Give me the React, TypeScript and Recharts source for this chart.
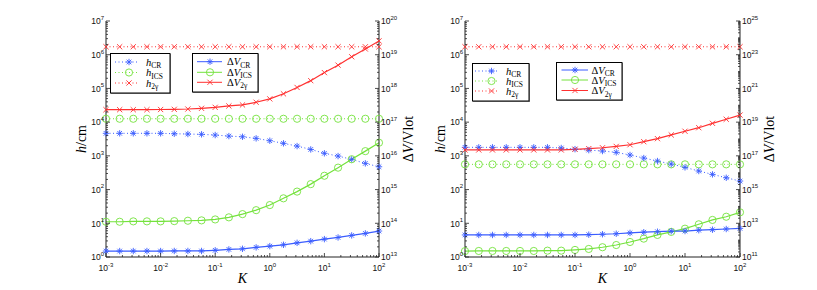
import { ComposedChart, Line, XAxis, YAxis } from "recharts";

const BLUE = "#3a5cff";
const GREEN = "#74e23c";
const RED = "#ff3030";
const SANS = "'Liberation Sans', Arial, sans-serif";
const SERIF = "'Liberation Serif', 'Times New Roman', serif";

// K sampled 4 points per decade
const kValues = [
  0.001, 0.00178, 0.00316, 0.00562, 0.01, 0.0178, 0.0316, 0.0562, 0.1, 0.178, 0.316,
  0.562, 1, 1.78, 3.16, 5.62, 10, 17.8, 31.6, 56.2, 100,
];

// left panel
const hCrLeft = [4660, 4660, 4660, 4660, 4660, 4530, 4440, 4350, 4140, 3860, 3680, 3300, 2810, 2350, 1950, 1550, 1190, 986, 787, 598, 475];
const hIcsLeft = [12600, 12600, 12600, 12600, 12600, 12600, 12600, 12600, 12600, 12600, 12600, 12600, 12600, 12600, 12600, 12600, 12600, 12600, 12600, 12600, 12600];
const h2gLeft = [1.72e6, 1.72e6, 1.72e6, 1.72e6, 1.72e6, 1.72e6, 1.72e6, 1.72e6, 1.72e6, 1.72e6, 1.72e6, 1.72e6, 1.72e6, 1.72e6, 1.72e6, 1.72e6, 1.72e6, 1.72e6, 1.72e6, 1.72e6, 1.72e6];
const vCrLeft = [1.5e13, 1.5e13, 1.5e13, 1.5e13, 1.5e13, 1.51e13, 1.51e13, 1.51e13, 1.58e13, 1.68e13, 1.75e13, 1.93e13, 2.1e13, 2.3e13, 2.63e13, 2.95e13, 3.39e13, 3.8e13, 4.37e13, 5.01e13, 5.89e13];
const vIcsLeft = [1.11e14, 1.11e14, 1.14e14, 1.14e14, 1.14e14, 1.16e14, 1.19e14, 1.22e14, 1.3e14, 1.5e14, 1.87e14, 2.45e14, 3.47e14, 5.5e14, 8.71e14, 1.45e15, 2.57e15, 4.47e15, 7.94e15, 1.38e16, 2.45e16];
const v2gLeft = [2.34e17, 2.34e17, 2.34e17, 2.34e17, 2.37e17, 2.4e17, 2.45e17, 2.57e17, 2.75e17, 3.02e17, 3.24e17, 3.89e17, 4.9e17, 6.92e17, 1.07e18, 1.7e18, 2.95e18, 4.9e18, 8.71e18, 1.48e19, 2.57e19];

// right panel
const hCrRight = [1790, 1790, 1790, 1790, 1790, 1790, 1790, 1710, 1580, 1480, 1390, 1270, 1060, 861, 701, 571, 456, 355, 282, 224, 179];
const hIcsRight = [560, 560, 560, 560, 560, 560, 560, 560, 560, 560, 560, 560, 560, 560, 560, 560, 560, 560, 560, 560, 560];
const h2gRight = [1.72e6, 1.72e6, 1.72e6, 1.72e6, 1.72e6, 1.72e6, 1.72e6, 1.72e6, 1.72e6, 1.72e6, 1.72e6, 1.72e6, 1.72e6, 1.72e6, 1.72e6, 1.72e6, 1.72e6, 1.72e6, 1.72e6, 1.72e6, 1.72e6];
const vCrRight = [2.03e12, 2.03e12, 2.03e12, 2.03e12, 2.03e12, 2.03e12, 2.03e12, 2.03e12, 2.03e12, 2.11e12, 2.24e12, 2.4e12, 2.69e12, 2.95e12, 3.16e12, 3.39e12, 3.47e12, 3.89e12, 4.17e12, 4.57e12, 5.01e12];
const vIcsRight = [2.24e11, 2.28e11, 2.28e11, 2.28e11, 2.28e11, 2.28e11, 2.38e11, 2.38e11, 2.63e11, 3.0e11, 3.8e11, 5.13e11, 7.76e11, 1.23e12, 2.04e12, 3.09e12, 4.79e12, 8.71e12, 1.58e13, 2.45e13, 4.47e13];
const v2gRight = [2.24e17, 2.24e17, 2.24e17, 2.24e17, 2.24e17, 2.24e17, 2.24e17, 2.24e17, 2.45e17, 2.69e17, 3.02e17, 3.63e17, 4.57e17, 6.92e17, 1.05e18, 1.74e18, 2.88e18, 4.68e18, 8.51e18, 1.48e19, 2.63e19];

// labelled decades (exponents)
const xLabelExps = [-3, -2, -1, 0, 1, 2];
const hLabelExps = [0, 1, 2, 3, 4, 5, 6, 7];
const vLabelExpsLeft = [13, 14, 15, 16, 17, 18, 19, 20];
const vLabelExpsRight = [11, 13, 15, 17, 19, 21, 23, 25];

const logTicks = (from: number, to: number) => {
  const out: number[] = [];
  for (let e = from; e < to; e++) {
    for (let m = 1; m < 10; m++) out.push(Number((m * Math.pow(10, e)).toPrecision(3)));
  }
  out.push(Number(Math.pow(10, to).toPrecision(3)));
  return out;
};

const buildRows = (h1: number[], h2: number[], h3: number[], v1: number[], v2: number[], v3: number[]) =>
  kValues.map((K, i) => ({ K, hCR: h1[i], hICS: h2[i], h2g: h3[i], vCR: v1[i], vICS: v2[i], v2g: v3[i] }));

type Kind = "star" | "circle" | "cross";

const Mark = ({ kind, cx, cy, color }: { kind: Kind; cx: number; cy: number; color: string }) => {
  if (cx == null || cy == null) return null;
  if (kind === "circle") return <circle cx={cx} cy={cy} r={3.6} fill="none" stroke={color} strokeWidth={0.9} />;
  if (kind === "cross") {
    const r = 2.6;
    return (
      <g stroke={color} strokeWidth={0.9}>
        <line x1={cx - r} y1={cy - r} x2={cx + r} y2={cy + r} />
        <line x1={cx - r} y1={cy + r} x2={cx + r} y2={cy - r} />
      </g>
    );
  }
  const r = 3.2;
  const d = r * 0.72;
  return (
    <g stroke={color} strokeWidth={0.9}>
      <line x1={cx - r} y1={cy} x2={cx + r} y2={cy} />
      <line x1={cx} y1={cy - r} x2={cx} y2={cy + r} />
      <line x1={cx - d} y1={cy - d} x2={cx + d} y2={cy + d} />
      <line x1={cx - d} y1={cy + d} x2={cx + d} y2={cy - d} />
    </g>
  );
};

const dotOf = (kind: Kind, color: string) => (p: any) =>
  <Mark key={`${kind}-${color}-${p.index}`} kind={kind} cx={p.cx} cy={p.cy} color={color} />;

const Pow = ({ x, y, anchor, e }: { x: number; y: number; anchor: string; e: number }) => (
  <text x={x} y={y} textAnchor={anchor as any} fontFamily={SANS} fontSize={8.5} fill="#111">
    10<tspan dy={-4.5} fontSize={6}>{e}</tspan>
  </text>
);

const LogTick = (props: any) => {
  const { x, y, payload, side, labels } = props;
  const lg = Math.log10(payload.value);
  const e = Math.round(lg);
  const labeled = Math.abs(lg - e) < 1e-6 && labels.includes(e);
  const len = labeled ? 4 : 2;
  const st = { stroke: "#222", strokeWidth: 0.8 };
  if (side === "bottom")
    return (
      <g>
        <line x1={x} y1={y} x2={x} y2={y - len} {...st} />
        {labeled && <Pow x={x} y={y + 14} anchor="middle" e={e} />}
      </g>
    );
  if (side === "top") return <line x1={x} y1={y} x2={x} y2={y + len} {...st} />;
  if (side === "left")
    return (
      <g>
        <line x1={x} y1={y} x2={x + len} y2={y} {...st} />
        {labeled && <Pow x={x - 2} y={y + 3.3} anchor="end" e={e} />}
      </g>
    );
  return (
    <g>
      <line x1={x} y1={y} x2={x - len} y2={y} {...st} />
      {labeled && <Pow x={x + 2} y={y + 3.3} anchor="start" e={e} />}
    </g>
  );
};

const VText = ({ cx, cy, children }: { cx: number; cy: number; children: any }) => (
  <text
    x={cx}
    y={cy}
    transform={`rotate(-90 ${cx} ${cy})`}
    textAnchor="middle"
    dominantBaseline="central"
    fontFamily={SERIF}
    fontSize={14}
    fill="#000"
  >
    {children}
  </text>
);

interface LegendItem {
  delta: boolean;
  sub: string;
  color: string;
  kind: Kind;
  dashed: boolean;
}

const LegendBox = ({ left, top, width, height, rows, line, markX, textX, items }: any) => (
  <svg style={{ position: "absolute", left, top }} width={width + 2} height={height + 2}>
    <rect x={1} y={1} width={width} height={height} fill="#888" />
    <rect x={0.5} y={0.5} width={width - 0.5} height={height - 0.5} fill="#fff" stroke="#000" strokeWidth={1} />
    {items.map((it: LegendItem, i: number) => (
      <g key={i}>
        <line
          x1={line[0]}
          x2={line[1]}
          y1={rows[i]}
          y2={rows[i]}
          stroke={it.color}
          strokeWidth={1}
          strokeDasharray={it.dashed ? "1 2.5" : undefined}
        />
        <Mark kind={it.kind} cx={markX} cy={rows[i]} color={it.color} />
        <text x={textX} y={rows[i] + 3.5} fontFamily={SERIF} fontSize={10.5} fill="#000">
          {it.delta ? "Δ" : ""}
          <tspan fontStyle="italic">{it.delta ? "V" : "h"}</tspan>
          <tspan dy={2.5} fontSize={7.5}>{it.sub}</tspan>
        </text>
      </g>
    ))}
  </svg>
);

const hItems: LegendItem[] = [
  { delta: false, sub: "CR", color: BLUE, kind: "star", dashed: true },
  { delta: false, sub: "ICS", color: GREEN, kind: "circle", dashed: true },
  { delta: false, sub: "2γ", color: RED, kind: "cross", dashed: true },
];
const vItems: LegendItem[] = [
  { delta: true, sub: "CR", color: BLUE, kind: "star", dashed: false },
  { delta: true, sub: "ICS", color: GREEN, kind: "circle", dashed: false },
  { delta: true, sub: "2γ", color: RED, kind: "cross", dashed: false },
];

const xTicks = logTicks(-3, 2);
const hTicks = logTicks(0, 7);

const Panel = ({ left, width, leftW, rightW, vDomain, vTicks, vLabels, data }: any) => {
  const plotL = leftW;
  const plotR = width - rightW;
  return (
    <div style={{ position: "absolute", left, top: 0 }}>
      <ComposedChart width={width} height={290} data={data} margin={{ top: 21, right: 0, bottom: 0, left: 0 }}>
        <XAxis
          xAxisId="b"
          dataKey="K"
          type="number"
          scale="log"
          domain={[0.001, 100]}
          ticks={xTicks}
          interval={0}
          tickSize={0}
          tickMargin={0}
          height={33}
          stroke="#222"
          tick={(p: any) => <LogTick {...p} side="bottom" labels={xLabelExps} />}
          label={{
            content: () => (
              <text x={(plotL + plotR) / 2} y={283} textAnchor="middle" fontFamily={SERIF} fontStyle="italic" fontSize={14}>
                K
              </text>
            ),
          }}
        />
        <XAxis
          xAxisId="t"
          orientation="top"
          dataKey="K"
          type="number"
          scale="log"
          domain={[0.001, 100]}
          ticks={xTicks}
          interval={0}
          tickSize={0}
          tickMargin={0}
          height={0}
          stroke="#222"
          tick={(p: any) => <LogTick {...p} side="top" labels={xLabelExps} />}
        />
        <YAxis
          yAxisId="h"
          type="number"
          scale="log"
          domain={[1, 1e7]}
          ticks={hTicks}
          interval={0}
          tickSize={0}
          tickMargin={0}
          width={leftW}
          stroke="#222"
          tick={(p: any) => <LogTick {...p} side="left" labels={hLabelExps} />}
          label={{
            content: () => (
              <VText cx={plotL - 25} cy={139}>
                <tspan fontStyle="italic">h</tspan>/cm
              </VText>
            ),
          }}
        />
        <YAxis
          yAxisId="v"
          orientation="right"
          type="number"
          scale="log"
          domain={vDomain}
          ticks={vTicks}
          interval={0}
          tickSize={0}
          tickMargin={0}
          width={rightW}
          stroke="#222"
          tick={(p: any) => <LogTick {...p} side="right" labels={vLabels} />}
          label={{
            content: () => (
              <VText cx={plotR + 29} cy={139}>
                Δ<tspan fontStyle="italic">V</tspan>/Vlot
              </VText>
            ),
          }}
        />
        <Line xAxisId="b" yAxisId="h" dataKey="h2g" stroke={RED} strokeWidth={1} strokeDasharray="1 2.5" dot={dotOf("cross", RED)} activeDot={false} isAnimationActive={false} />
        <Line xAxisId="b" yAxisId="h" dataKey="hICS" stroke={GREEN} strokeWidth={1} strokeDasharray="1 2.5" dot={dotOf("circle", GREEN)} activeDot={false} isAnimationActive={false} />
        <Line xAxisId="b" yAxisId="h" dataKey="hCR" stroke={BLUE} strokeWidth={1} strokeDasharray="1 2.5" dot={dotOf("star", BLUE)} activeDot={false} isAnimationActive={false} />
        <Line xAxisId="b" yAxisId="v" dataKey="v2g" stroke={RED} strokeWidth={1.2} dot={dotOf("cross", RED)} activeDot={false} isAnimationActive={false} />
        <Line xAxisId="b" yAxisId="v" dataKey="vICS" stroke={GREEN} strokeWidth={1.2} dot={dotOf("circle", GREEN)} activeDot={false} isAnimationActive={false} />
        <Line xAxisId="b" yAxisId="v" dataKey="vCR" stroke={BLUE} strokeWidth={1.2} dot={dotOf("star", BLUE)} activeDot={false} isAnimationActive={false} />
      </ComposedChart>
    </div>
  );
};

export default function App() {
  const leftData = buildRows(hCrLeft, hIcsLeft, h2gLeft, vCrLeft, vIcsLeft, v2gLeft);
  const rightData = buildRows(hCrRight, hIcsRight, h2gRight, vCrRight, vIcsRight, v2gRight);
  return (
    <div style={{ position: "absolute", left: 0, top: 0, width: 817, height: 290, background: "#fff", overflow: "hidden" }}>
      <Panel left={0} width={430} leftW={106} rightW={51} vDomain={[1e13, 1e20]} vTicks={logTicks(13, 20)} vLabels={vLabelExpsLeft} data={leftData} />
      <Panel left={430} width={387} leftW={35} rightW={77} vDomain={[1e11, 1e25]} vTicks={logTicks(11, 25)} vLabels={vLabelExpsRight} data={rightData} />
      <LegendBox left={110} top={53} width={60} height={40} rows={[9, 19.5, 30]} line={[5, 29]} markX={19} textX={36} items={hItems} />
      <LegendBox left={192} top={53} width={66} height={39} rows={[8.7, 19.3, 29.3]} line={[5, 30]} markX={18} textX={35} items={vItems} />
      <LegendBox left={472} top={63} width={57} height={38} rows={[8, 18, 28]} line={[3, 26]} markX={19.5} textX={34} items={hItems} />
      <LegendBox left={556} top={62} width={66} height={38} rows={[8, 18, 28.5]} line={[5.5, 32]} markX={19} textX={35.5} items={vItems} />
    </div>
  );
}
